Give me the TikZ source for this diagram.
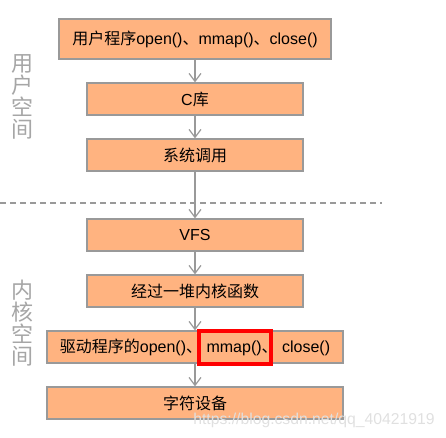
\documentclass[tikz,border=0pt]{standalone}
\usepackage{fontspec}
\setmainfont{Liberation Sans}
\newfontfamily\cjk{Noto Sans CJK SC}
\usetikzlibrary{arrows.meta}
\definecolor{boxfill}{HTML}{FFB380}
\definecolor{boxline}{HTML}{999999}
\definecolor{sidegray}{HTML}{A6A6A6}
\newcommand{\zh}[1]{{\cjk #1}}
\begin{document}
\begin{tikzpicture}[x=0.75pt,y=-0.75pt,
  blk/.style={draw=boxline,fill=boxfill,line width=0.9pt,inner sep=0pt,font=\fontsize{12}{14}\selectfont},
  flow/.style={draw=boxline,line width=0.9pt,-{Straight Barb[length=6pt,width=9pt,line width=0.9pt]}},
  side/.style={text=sidegray,font=\cjk\fontsize{16.5}{17.5}\selectfont,align=center,inner sep=0pt}]
\useasboundingbox (0,0) rectangle (446,437);
\draw[boxline,dashed,dash pattern=on 4.5pt off 3pt,line width=0.8pt] (0,203) -- (382,203);
\node[blk,minimum width=272*0.75pt,minimum height=40*0.75pt] (b1) at (195,39) {\zh{用户程序}open()\zh{、}mmap()\zh{、}close()};
\node[blk,minimum width=216*0.75pt,minimum height=32*0.75pt] (b2) at (195,99) {C\zh{库}};
\node[blk,minimum width=216*0.75pt,minimum height=32*0.75pt] (b3) at (195,155) {\zh{系统调用}};
\node[blk,minimum width=216*0.75pt,minimum height=32*0.75pt] (b4) at (195,235) {VFS};
\node[blk,minimum width=216*0.75pt,minimum height=32*0.75pt] (b5) at (195,291) {\zh{经过一堆内核函数}};
\node[blk,minimum width=296*0.75pt,minimum height=32*0.75pt] (b6) at (195,347) {\zh{驱动程序的}open()\zh{、} mmap()\zh{、} close()};
\node[blk,minimum width=296*0.75pt,minimum height=32*0.75pt] (b7) at (195,403) {\zh{字符设备}};
\node[draw=red,line width=3pt,minimum width=72*0.75pt,minimum height=33*0.75pt,inner sep=0pt] (hl) at (235,347) {};
\draw[flow] (b1) -- (b2);
\draw[flow] (b2) -- (b3);
\draw[flow] (b3) -- (b4);
\draw[flow] (b4) -- (b5);
\draw[flow] (b5) -- (b6);
\draw[flow] (b6) -- (b7);
\node[side] (us) at (23,97) {用\\[-1pt]户\\[-1pt]空\\[-1pt]间};
\node[side] (ks) at (23,323) {内\\[-1pt]核\\[-1pt]空\\[-1pt]间};
\node[text=black!12,font=\fontsize{11.8}{13}\selectfont,inner sep=0pt] (wm) at (314,420) {https://blog.csdn.net/qq\_40421919};
\end{tikzpicture}
\end{document}
